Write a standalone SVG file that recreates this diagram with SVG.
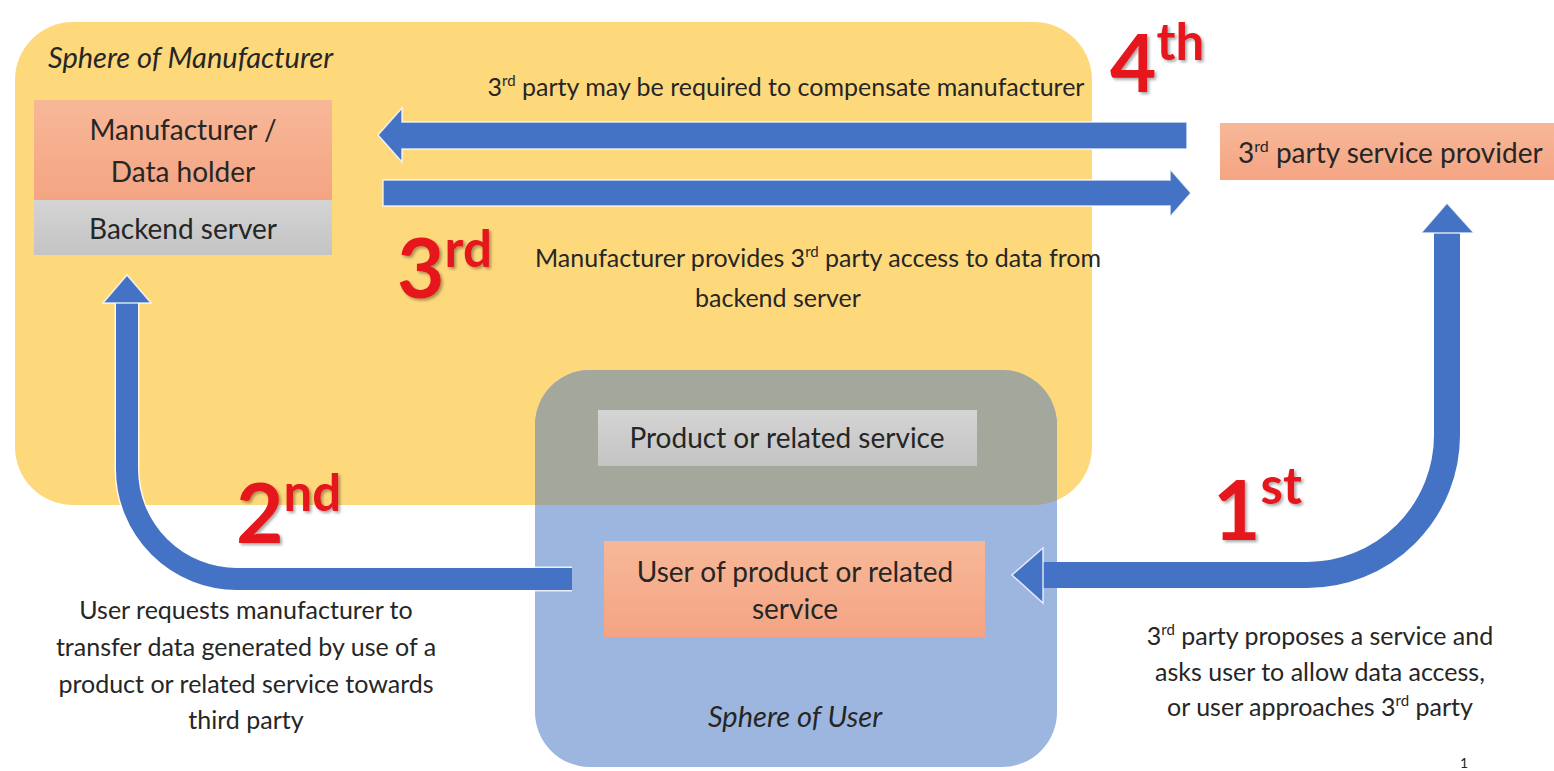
<svg xmlns="http://www.w3.org/2000/svg" width="1554" height="771" viewBox="0 0 1554 771">
  <style>
    .t { font-family: Lato, "Liberation Sans", sans-serif; fill: #262626; }
    .box-t { font-size: 28px; text-anchor: middle; }
    .note { font-size: 25px; }
    .mid { text-anchor: middle; }
    .it { font-style: italic; font-size: 29px; }
    .ord { font-family: Lato, "Liberation Sans", sans-serif; font-weight: 700; fill: #e5131b; filter: url(#shadow); }
    .arrow { fill: #4472c4; stroke: #ffffff; stroke-width: 1.5; stroke-opacity: 0.8; }
    .shaft { fill: none; stroke: #4472c4; }
    .shaft-edge { fill: none; stroke: #ffffff; stroke-opacity: 0.8; }
  </style>
  <defs>
    <linearGradient id="orange" x1="0" y1="0" x2="0" y2="1">
      <stop offset="0" stop-color="#f7b898"/>
      <stop offset="1" stop-color="#f4a483"/>
    </linearGradient>
    <linearGradient id="grey" x1="0" y1="0" x2="0" y2="1">
      <stop offset="0" stop-color="#d4d4d4"/>
      <stop offset="1" stop-color="#c4c4c4"/>
    </linearGradient>
    <clipPath id="yellowClip">
      <rect x="15" y="22" width="1077" height="483" rx="58"/>
    </clipPath>
    <filter id="shadow" x="-20%" y="-20%" width="140%" height="140%">
      <feDropShadow dx="2" dy="2" stdDeviation="1.5" flood-color="#000" flood-opacity="0.35"/>
    </filter>
  </defs>

  <rect width="1554" height="771" fill="#ffffff"/>

  <!-- spheres -->
  <g id="sphere-manufacturer">
    <rect x="15" y="22" width="1077" height="483" rx="58" fill="#fed97c"/>
    <text class="t it" x="48" y="68">Sphere of Manufacturer</text>
  </g>
  <g id="sphere-user">
    <rect x="535" y="370" width="522" height="397" rx="55" fill="#9db6e0"/>
    <rect x="535" y="370" width="522" height="397" rx="55" fill="#a4a89c" clip-path="url(#yellowClip)"/>
    <text class="t it mid" x="795" y="727" fill="#1f2a44">Sphere of User</text>
  </g>

  <!-- nodes -->
  <g id="manufacturer">
    <rect x="34" y="100" width="298" height="100" fill="url(#orange)"/>
    <text class="t box-t" x="183" y="140">Manufacturer /</text>
    <text class="t box-t" x="183" y="182">Data holder</text>
  </g>
  <g id="backend-server">
    <rect x="34" y="200" width="298" height="55" fill="url(#grey)"/>
    <text class="t box-t" x="183" y="239">Backend server</text>
  </g>
  <g id="third-party">
    <rect x="1220" y="123" width="334" height="57" fill="url(#orange)"/>
    <text class="t" font-size="28" x="1238" y="163">3<tspan font-size="16" dy="-11">rd</tspan><tspan dy="11"> party service provider</tspan></text>
  </g>
  <g id="product">
    <rect x="598" y="410" width="379" height="56" fill="url(#grey)"/>
    <text class="t box-t" x="787" y="448">Product or related service</text>
  </g>
  <g id="user">
    <rect x="604" y="541" width="381" height="96" fill="url(#orange)"/>
    <text class="t box-t" x="795" y="582">User of product or related</text>
    <text class="t box-t" x="795" y="619">service</text>
  </g>

  <!-- connectors -->
  <g id="connectors">
    <!-- 4th: third party back to manufacturer -->
    <polygon class="arrow" points="1187,122 402,122 402,108 378,135 402,162 402,149 1187,149"/>
    <!-- 3rd: manufacturer to third party -->
    <polygon class="arrow" points="383,180 1170,180 1170,169 1191,193 1170,217 1170,206 383,206"/>
    <!-- 2nd: user to manufacturer -->
    <path class="shaft-edge" stroke-width="25" d="M 572 579 H 237 A 110 110 0 0 1 127 469 V 302"/>
    <path class="shaft" stroke-width="22" d="M 572 579 H 237 A 110 110 0 0 1 127 469 V 302"/>
    <polygon class="arrow" points="103,303 127,275 151,303"/>
    <!-- 1st: third party to user, and user to third party -->
    <path class="shaft" stroke-width="26" d="M 1447 232 V 435 A 140 140 0 0 1 1307 575 H 1042"/>
    <polygon class="arrow" points="1421,233 1447,203 1474,233"/>
    <polygon class="arrow" points="1043,548 1012,575 1043,603"/>
  </g>

  <!-- step labels -->
  <g id="step-4">
    <text class="ord" x="1110" y="92" font-size="80">4<tspan font-size="51" dy="-32">th</tspan></text>
    <text class="t note mid" x="786" y="96">3<tspan font-size="15" dy="-10">rd</tspan><tspan dy="10"> party may be required to compensate manufacturer</tspan></text>
  </g>
  <g id="step-3">
    <text class="ord" x="397" y="298" font-size="82">3<tspan font-size="51" dy="-31">rd</tspan></text>
    <text class="t note mid" x="818" y="267">Manufacturer provides 3<tspan font-size="15" dy="-10">rd</tspan><tspan dy="10"> party access to data from</tspan></text>
    <text class="t note mid" x="778" y="307">backend server</text>
  </g>
  <g id="step-2">
    <text class="ord" x="236" y="543" font-size="82">2<tspan font-size="51" dy="-32">nd</tspan></text>
    <text class="t note mid" x="246" y="619">User requests manufacturer to</text>
    <text class="t note mid" x="246" y="656">transfer data generated by use of a</text>
    <text class="t note mid" x="246" y="693">product or related service towards</text>
    <text class="t note mid" x="246" y="729">third party</text>
  </g>
  <g id="step-1">
    <text class="ord" x="1213" y="540" font-size="82">1<tspan font-size="51" dy="-36">st</tspan></text>
    <text class="t note mid" x="1320" y="645">3<tspan font-size="15" dy="-10">rd</tspan><tspan dy="10"> party proposes a service and</tspan></text>
    <text class="t note mid" x="1320" y="681">asks user to allow data access,</text>
    <text class="t note mid" x="1320" y="716">or user approaches 3<tspan font-size="15" dy="-10">rd</tspan><tspan dy="10"> party</tspan></text>
  </g>
  <text class="t" x="1460" y="768" font-size="14" fill="#9a9a9a">1</text>
</svg>
